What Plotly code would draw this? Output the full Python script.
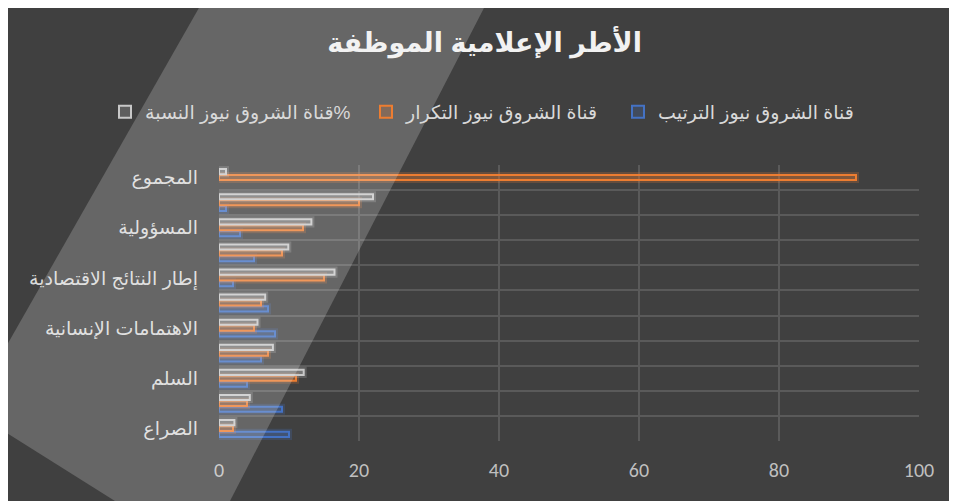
import plotly.graph_objects as go

# data (bottom -> top)
categories = ["الصراع", "التهديد", "السلم", "التطمين", "الاهتمامات الإنسانية", "الاستراتيجية",
              "إطار النتائج الاقتصادية", "الأخلاقي", "المسؤولية", "المؤامرة", "المجموع"]
shown_labels = ["الصراع", "السلم", "الاهتمامات الإنسانية", "إطار النتائج الاقتصادية", "المسؤولية", "المجموع"]
rank = [10, 9, 4, 6, 8, 7, 2, 5, 3, 1, None]
freq = [2, 4, 11, 7, 5, 6, 15, 9, 12, 20, 91]
pct = [2.2, 4.4, 12.1, 7.7, 5.5, 6.6, 16.5, 9.9, 13.2, 22.0, 1]
series_names = ["قناة الشروق نيوز الترتيب", "قناة الشروق نيوز التكرار", "قناة الشروق نيوز النسبة%"]
x_ticks = [0, 20, 40, 60, 80, 100]

# series colours (r, g, b)
colors = [(68, 114, 196), (237, 125, 49), (200, 200, 200)]

FONT = "Calibri, Carlito, Lato, 'DejaVu Sans', sans-serif"
AR_FONT = "Arial, 'Liberation Sans', 'DejaVu Sans', sans-serif"
W, H = 957, 501
OFF = 8  # page body margin
L, R, T, B = 211, 46, 157, 68

# one legend per series so each entry sits where the original has it
legend_ids = ["legend", "legend2", "legend3"]
legend_text_x = [658, 406, 145]  # page x where each entry's text starts

fig = go.Figure()

for name, vals, c, og, lg in zip(series_names, [rank, freq, pct], colors, ["a", "b", "c"], legend_ids):
    rgb = "%d,%d,%d" % c
    # soft glow behind the outlined bar
    fig.add_trace(go.Bar(
        y=categories, x=vals, orientation="h", offsetgroup=og,
        marker=dict(color="rgba(0,0,0,0)", line=dict(color=f"rgba({rgb},0.22)", width=6)),
        showlegend=False, hoverinfo="skip",
    ))
    fig.add_trace(go.Bar(
        y=categories, x=vals, orientation="h", offsetgroup=og, name=name, legend=lg,
        marker=dict(color=f"rgba({rgb},0.22)", line=dict(color=f"rgb({rgb})", width=2)),
    ))


# watermark band (page pixel positions, converted to paper coords)
def px(x):
    return (x - OFF - L) / (W - L - R)


def py(y):
    return (H - B - (y - OFF)) / (H - T - B)


band = [(200, 6), (485, 6), (230, 501), (115, 501), (7, 433), (7, 345)]
path = "M " + " L ".join(f"{px(a):.4f},{py(b):.4f}" for a, b in band) + " Z"

legends = {}
for lg, tx in zip(legend_ids, legend_text_x):
    legends[lg] = dict(orientation="h", xref="container", x=(tx - OFF - 40) / W, xanchor="left",
                       yref="container", y=1 - 104 / H, yanchor="middle",
                       font=dict(size=19, color="#d9d9d9", family=AR_FONT),
                       bgcolor="rgba(0,0,0,0)")

fig.update_layout(
    width=W, height=H,
    margin=dict(l=L, r=R, t=T, b=B),
    paper_bgcolor="#404040", plot_bgcolor="#404040",
    font=dict(family=FONT, color="#d9d9d9"),
    barmode="group", bargap=0.3, bargroupgap=0.12,
    title=dict(text="<b>الأطر الإعلامية الموظفة</b>", x=0.498, xanchor="center",
               y=1 - 35 / H, yanchor="middle",
               font=dict(size=27, color="#f2f2f2", family=AR_FONT)),
    xaxis=dict(range=[0, 100], tickvals=x_ticks, showgrid=True, gridcolor="#5a5a5a", gridwidth=1.5,
               zeroline=False, showline=False, ticks="",
               tickfont=dict(size=20, color="#bfbfbf"), ticklabelstandoff=15),
    yaxis=dict(type="category", categoryorder="array", categoryarray=categories,
               tickmode="array", tickvals=categories,
               ticktext=[c if c in shown_labels else "" for c in categories],
               tickson="boundaries", showgrid=True, gridcolor="#5a5a5a", gridwidth=1.5,
               ticks="", showline=False, range=[-0.5, len(categories) - 0.5],
               tickfont=dict(size=19, color="#d9d9d9", family=AR_FONT),
               ticklabelstandoff=20),
    shapes=[dict(type="path", path=path, xref="paper", yref="paper", layer="above",
                 fillcolor="rgba(255,255,255,0.2)", line=dict(width=0))],
    **legends,
)

fig.write_html("out.html")
